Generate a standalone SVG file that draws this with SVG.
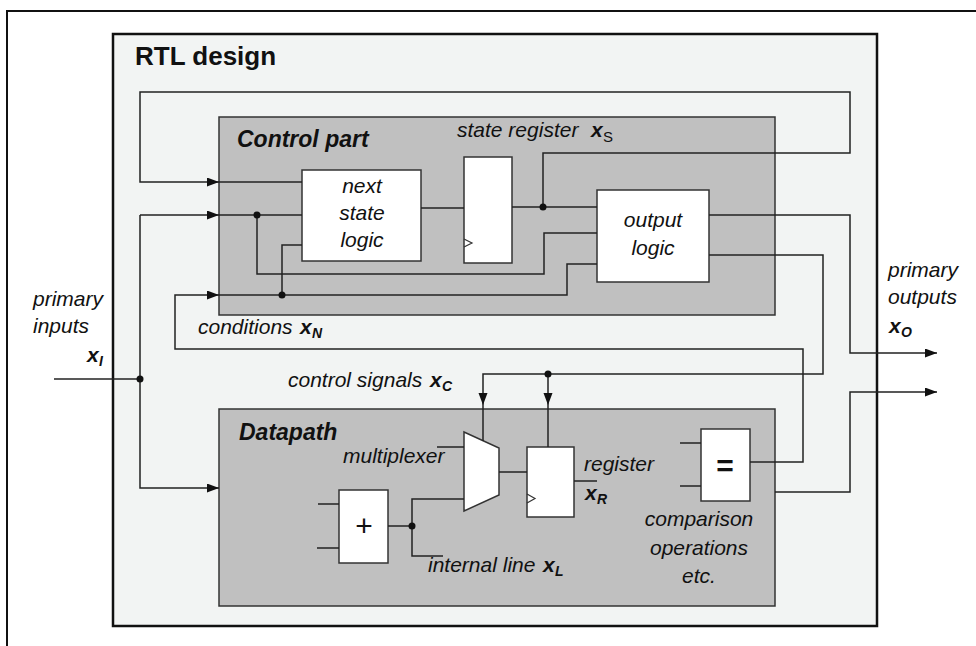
<svg xmlns="http://www.w3.org/2000/svg" width="976" height="646" viewBox="0 0 976 646">
<style>
text{font-family:"Liberation Sans",Arial,sans-serif;fill:#111}
.it{font-style:italic;font-size:21px}
.bi{font-style:italic;font-weight:bold}
.w{fill:#fff;stroke:#333;stroke-width:1.5}
.part{fill:#c0c0c0;stroke:#333;stroke-width:1.5}
.c path,.c line{fill:none;stroke:#222;stroke-width:1.5}
.dot{fill:#111}
.mid{text-anchor:middle}
</style>
<defs>
<marker id="ar" markerUnits="userSpaceOnUse" markerWidth="12" markerHeight="10" refX="12" refY="4.5" orient="auto">
<path d="M0,0 L12,4.5 L0,9 z" fill="#111"/>
</marker>
</defs>
<rect x="7" y="11" width="1000" height="700" fill="#fff" stroke="#111" stroke-width="2"/>
<g id="rtl">
<rect x="113" y="34" width="764" height="592" fill="#f2f4f3" stroke="#111" stroke-width="2.5"/>
<text x="135" y="65" font-size="26" font-weight="bold">RTL design</text>
</g>
<g id="control">
<rect class="part" x="219" y="117" width="556" height="198"/>
<text class="bi" x="237" y="147" font-size="23">Control part</text>
</g>
<g id="datapath">
<rect class="part" x="219" y="409" width="556" height="197"/>
<text class="bi" x="239" y="440" font-size="23">Datapath</text>
</g>
<g id="nextstate">
<rect class="w" x="302" y="170" width="119" height="91"/>
<text class="it mid" x="362" y="193">next</text>
<text class="it mid" x="362" y="220">state</text>
<text class="it mid" x="362" y="247">logic</text>
</g>
<g id="stateregister">
<rect class="w" x="464" y="157" width="48" height="106"/>
<polyline points="464,239 472,243 464,247" fill="none" stroke="#333" stroke-width="1.2"/>
<text class="it" x="457" y="137">state register</text>
<text class="bi" x="591" y="137" font-size="21">x</text>
<text x="603" y="142" font-size="15">S</text>
</g>
<g id="outputlogic">
<rect class="w" x="597" y="190" width="112" height="92"/>
<text class="it mid" x="653" y="227">output</text>
<text class="it mid" x="653" y="255">logic</text>
</g>
<g id="adder">
<rect class="w" x="339" y="490" width="49" height="73"/>
<text class="mid" x="364" y="536" font-size="30">+</text>
</g>
<g id="mux">
<polygon class="w" points="464,432 499,448 499,495 464,511"/>
<text class="it" x="343" y="463">multiplexer</text>
</g>
<g id="register">
<rect class="w" x="527" y="447" width="47" height="70"/>
<polyline points="527,494 535,498.5 527,503" fill="none" stroke="#333" stroke-width="1.2"/>
<text class="it" x="584" y="471">register</text>
<text class="bi" x="585" y="500" font-size="21">x</text>
<text class="bi" x="597" y="504" font-size="14">R</text>
</g>
<g id="comparator">
<rect class="w" x="701" y="429" width="49" height="72"/>
<text class="mid" x="725" y="476" font-size="30" font-weight="bold">=</text>
<text class="it mid" x="699" y="526">comparison</text>
<text class="it mid" x="699" y="555">operations</text>
<text class="it mid" x="699" y="583">etc.</text>
</g>
<g id="labels">
<text class="it" x="33" y="306">primary</text>
<text class="it" x="33" y="333">inputs</text>
<text class="bi" x="87" y="362" font-size="21">x</text>
<text class="bi" x="99" y="366" font-size="14">I</text>
<text class="it" x="888" y="277">primary</text>
<text class="it" x="888" y="304">outputs</text>
<text class="bi" x="889" y="333" font-size="21">x</text>
<text class="bi" x="901" y="337" font-size="14">O</text>
<text class="it" x="198" y="334">conditions</text>
<text class="bi" x="300" y="334" font-size="21">x</text>
<text class="bi" x="312" y="338" font-size="14">N</text>
<text class="it" x="288" y="387">control signals</text>
<text class="bi" x="430" y="387" font-size="21">x</text>
<text class="bi" x="442" y="391" font-size="14">C</text>
<text class="it" x="428" y="572">internal line</text>
<text class="bi" x="543" y="572" font-size="21">x</text>
<text class="bi" x="555" y="576" font-size="14">L</text>
</g>
<g id="connectors" class="c">
<path d="M543,207 V153 H850 V92 H140 V182 H219" marker-end="url(#ar)"/>
<path d="M219,182 H302"/>
<path d="M54,379 H140"/>
<path d="M140,215 H219" marker-end="url(#ar)"/>
<path d="M219,215 H302"/>
<path d="M140,215 V488 H219" marker-end="url(#ar)"/>
<path d="M257,215 V274 H544 V233 H597"/>
<path d="M750,462 H803 V349 H175 V295 H219" marker-end="url(#ar)"/>
<path d="M219,295 H567 V264 H597"/>
<path d="M282,295 V245 H302"/>
<path d="M421,208 H464"/>
<path d="M512,207 H597"/>
<path d="M709,215 H850 V353 H937" marker-end="url(#ar)"/>
<path d="M709,255 H823 V374 H483 V405" marker-end="url(#ar)"/>
<path d="M483,405 V441"/>
<path d="M548,374 V405" marker-end="url(#ar)"/>
<path d="M548,405 V447"/>
<path d="M388,526 H412"/>
<path d="M464,499 H412 V556 H443"/>
<path d="M499,472 H527"/>
<path d="M574,481 H597"/>
<path d="M437,447 H464"/>
<path d="M318,504 H339"/>
<path d="M317,548 H339"/>
<path d="M680,443 H701"/>
<path d="M680,486 H701"/>
<path d="M775,492 H850 V392 H937" marker-end="url(#ar)"/>
<circle class="dot" cx="140" cy="379" r="3.5"/>
<circle class="dot" cx="257" cy="215" r="3.5"/>
<circle class="dot" cx="282" cy="295" r="3.5"/>
<circle class="dot" cx="543" cy="207" r="3.5"/>
<circle class="dot" cx="548" cy="374" r="3.5"/>
<circle class="dot" cx="412" cy="526" r="3.5"/>
</g>
</svg>
